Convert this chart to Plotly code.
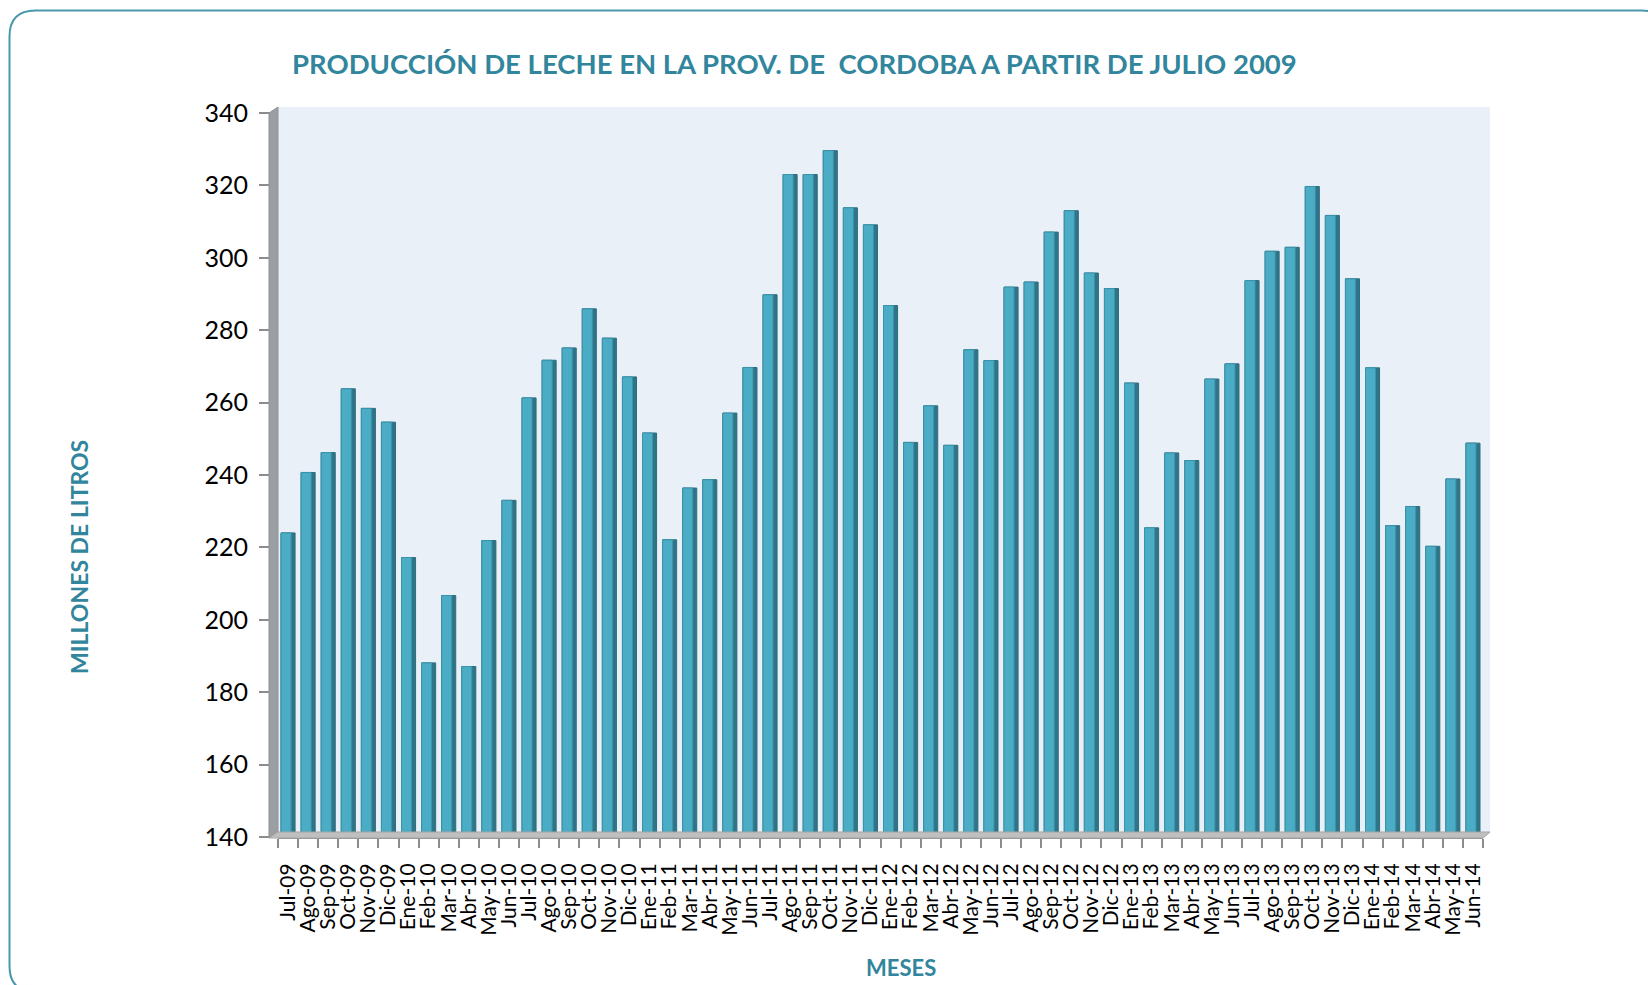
import plotly.graph_objects as go

months = ["Jul-09","Ago-09","Sep-09","Oct-09","Nov-09","Dic-09","Ene-10","Feb-10","Mar-10","Abr-10","May-10","Jun-10",
          "Jul-10","Ago-10","Sep-10","Oct-10","Nov-10","Dic-10","Ene-11","Feb-11","Mar-11","Abr-11","May-11","Jun-11",
          "Jul-11","Ago-11","Sep-11","Oct-11","Nov-11","Dic-11","Ene-12","Feb-12","Mar-12","Abr-12","May-12","Jun-12",
          "Jul-12","Ago-12","Sep-12","Oct-12","Nov-12","Dic-12","Ene-13","Feb-13","Mar-13","Abr-13","May-13","Jun-13",
          "Jul-13","Ago-13","Sep-13","Oct-13","Nov-13","Dic-13","Ene-14","Feb-14","Mar-14","Abr-14","May-14","Jun-14"]
produccion = [224.0, 240.7, 246.2, 263.8, 258.4, 254.6, 217.2, 188.1, 206.7, 187.1, 221.9, 233.0,
              261.3, 271.7, 275.1, 285.9, 277.8, 267.1, 251.6, 222.1, 236.4, 238.7, 257.1, 269.7,
              289.8, 323.0, 323.0, 329.6, 313.8, 309.1, 286.8, 249.0, 259.1, 248.2, 274.6, 271.6,
              291.9, 293.3, 307.1, 313.0, 295.8, 291.5, 265.4, 225.4, 246.1, 244.0, 266.5, 270.7,
              293.7, 301.8, 302.9, 319.7, 311.7, 294.2, 269.6, 226.0, 231.3, 220.3, 238.9, 248.8]
y_ticks = [140, 160, 180, 200, 220, 240, 260, 280, 300, 320, 340]

TITLE = "PRODUCCIÓN DE LECHE EN LA PROV. DE\u00a0 CORDOBA A PARTIR DE JULIO 2009"
Y_TITLE = "MILLONES DE LITROS"
X_TITLE = "MESES"

W, H = 1648, 985
L, R, T, B = 278, 165, 113, 148
PW = W - L - R
PH = H - T - B

def px(x):
    return (x - L) / PW

def py(y):
    return 1 - (y - T) / PH

TEAL = "#31859C"

fig = go.Figure()
# side (dark) part of each bar
fig.add_trace(go.Bar(x=months, y=produccion, width=0.7, offset=-0.35,
                     marker=dict(color="#2F7487", line=dict(color="#2A6E80", width=1)),
                     hoverinfo="skip", showlegend=False))
# front (light) face
fig.add_trace(go.Bar(x=months, y=produccion, width=0.5, offset=-0.35,
                     marker=dict(color="#4BACC6", line=dict(color="#3B93AA", width=1)),
                     showlegend=False))

def path(points):
    s = "M " + " L ".join(f"{px(a):.5f},{py(b):.5f}" for a, b in points) + " Z"
    return s

shapes = []
# back wall background
shapes.append(dict(type="path", xref="paper", yref="paper", layer="below",
                   path=path([(278, 838), (278, 107), (1490, 107), (1490, 832), (1483, 838)]),
                   fillcolor="#E9F0F7", line=dict(width=0)))
# left wall
shapes.append(dict(type="path", xref="paper", yref="paper", layer="above",
                   path=path([(269, 838), (269, 113), (278, 107), (278, 832)]),
                   fillcolor="#9B9FA3", line=dict(color="#8E9296", width=1)))
# floor
shapes.append(dict(type="path", xref="paper", yref="paper", layer="above",
                   path=path([(269, 838), (278, 832), (1490, 832), (1483, 838)]),
                   fillcolor="#BFBFBF", line=dict(color="#A6A6A6", width=1)))

# outer rounded border
x0, y0, x1, y1, r = 9.5, 10.5, 1668, 992, 26
bp = (f"M {px(x0):.5f},{py(y0 + r):.5f} "
      f"Q {px(x0):.5f},{py(y0):.5f} {px(x0 + r):.5f},{py(y0):.5f} "
      f"L {px(x1 - r):.5f},{py(y0):.5f} "
      f"Q {px(x1):.5f},{py(y0):.5f} {px(x1):.5f},{py(y0 + r):.5f} "
      f"L {px(x1):.5f},{py(y1 - r):.5f} "
      f"Q {px(x1):.5f},{py(y1):.5f} {px(x1 - r):.5f},{py(y1):.5f} "
      f"L {px(x0 + r):.5f},{py(y1):.5f} "
      f"Q {px(x0):.5f},{py(y1):.5f} {px(x0):.5f},{py(y1 - r):.5f} Z")
shapes.append(dict(type="path", xref="paper", yref="paper", layer="below", path=bp,
                   line=dict(color="#4A98AC", width=2)))

annotations = [
    dict(text=f"<b>{TITLE}</b>", x=px(794), y=py(63), xref="paper", yref="paper",
         showarrow=False, xanchor="center", yanchor="middle",
         font=dict(family="Lato", size=27.5, color=TEAL)),
    dict(text=f"<b>{Y_TITLE}</b>", x=px(79), y=py(557), xref="paper", yref="paper",
         showarrow=False, xanchor="center", yanchor="middle", textangle=-90,
         font=dict(family="Lato", size=23, color=TEAL)),
    dict(text=f"<b>{X_TITLE}</b>", x=px(901), y=py(967), xref="paper", yref="paper",
         showarrow=False, xanchor="center", yanchor="middle",
         font=dict(family="Lato", size=22, color=TEAL)),
]

fig.update_layout(
    width=W, height=H,
    margin=dict(l=L, r=R, t=T, b=B, pad=0),
    paper_bgcolor="white", plot_bgcolor="rgba(0,0,0,0)",
    barmode="overlay", bargap=0.3,
    shapes=shapes, annotations=annotations,
    font=dict(family="Lato", color="black"),
    showlegend=False,
)
fig.update_xaxes(type="category", tickmode="array", tickvals=months, ticktext=months,
                 tickangle=-90, tickfont=dict(family="Lato", size=21, color="black"),
                 ticks="outside", tickson="boundaries", ticklen=9, tickwidth=2, tickcolor="#8C8C8C",
                 showline=True, linecolor="#8C8C8C", linewidth=2, showgrid=False,
                 range=[-0.5, len(months) - 0.5], ticklabelstandoff=16)
fig.update_yaxes(range=[140, 340], tickmode="array", tickvals=y_ticks,
                 tickfont=dict(family="Lato", size=25, color="black"),
                 ticks="outside", ticklen=18, tickwidth=2, tickcolor="#8C8C8C",
                 showline=False, showgrid=False, zeroline=False, ticklabelstandoff=6)

fig.write_html("out.html", config={"displayModeBar": False},
               post_script="document.body.style.margin='0';document.body.style.overflow='hidden';")
